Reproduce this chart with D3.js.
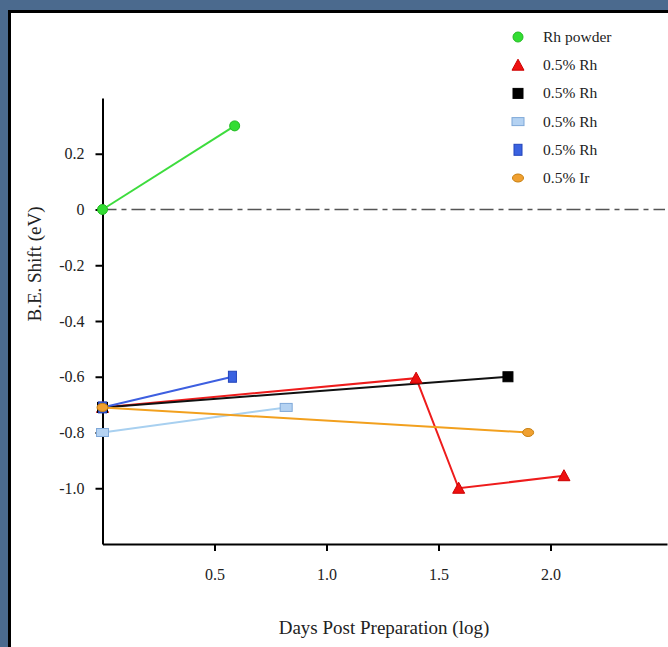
<!DOCTYPE html>
<html>
<head>
<meta charset="utf-8">
<script src="https://cdn.jsdelivr.net/npm/d3@7"></script>
<style>
  html, body { margin: 0; padding: 0; background: #4b6a8e; }
  svg { display: block; }
</style>
</head>
<body>
<script>
const width = 668;
const height = 647;

// series: days post preparation (log) vs B.E. shift (eV)
const seriesNames = ["Rh powder", "0.5% Rh", "0.5% Rh", "0.5% Rh", "0.5% Rh", "0.5% Ir"];
const rhPowder = [[0, 0], [0.59, 0.30]];
const rhRed = [[0, -0.71], [1.40, -0.605], [1.59, -1.00], [2.06, -0.955]];
const rhBlack = [[0, -0.71], [1.81, -0.60]];
const rhLight = [[0, -0.80], [0.82, -0.71]];
const rhBlue = [[0, -0.71], [0.58, -0.60]];
const irOrange = [[0, -0.71], [1.90, -0.80]];

const xTicks = [0.5, 1.0, 1.5, 2.0];
const yTicks = [0.2, 0, -0.2, -0.4, -0.6, -0.8, -1.0];

const styles = [
  { data: rhPowder, line: "#3ddc3d", fill: "#33dd33", stroke: "#22bb22", shape: "circle" },
  { data: rhRed, line: "#ee1c1c", fill: "#ee1111", stroke: "#cc0000", shape: "triangle" },
  { data: rhBlack, line: "#111111", fill: "#000000", stroke: "#000000", shape: "square" },
  { data: rhLight, line: "#a8d0f0", fill: "#b4d2f2", stroke: "#7fa8d8", shape: "wideRect" },
  { data: rhBlue, line: "#3d5fe0", fill: "#3a62e0", stroke: "#2244bb", shape: "tallRect" },
  { data: irOrange, line: "#f2a01e", fill: "#f0a030", stroke: "#c88010", shape: "ellipse" }
];

const svg = d3.select("body").append("svg")
  .attr("width", width)
  .attr("height", height);

// panel
svg.append("rect")
  .attr("x", 9.5).attr("y", 11.5)
  .attr("width", width + 10).attr("height", height + 10)
  .attr("fill", "#ffffff")
  .attr("stroke", "#000000")
  .attr("stroke-width", 3);

const x = d3.scaleLinear().domain([0, 2.52]).range([102.5, 667]);
const y = d3.scaleLinear().domain([-1.2, 0.4]).range([544, 98]);

const font = "'Liberation Serif', 'Times New Roman', serif";
const fmt = (d) => d === 0 ? "0" : d.toFixed(1);

// zero reference line
svg.append("line")
  .attr("x1", x(0)).attr("x2", 665)
  .attr("y1", y(0)).attr("y2", y(0))
  .attr("stroke", "#555555")
  .attr("stroke-width", 1.5)
  .attr("stroke-dasharray", "14,5,5,5");

const yAxis = svg.append("g")
  .attr("transform", `translate(${x(0)},0)`)
  .call(d3.axisLeft(y).tickValues(yTicks).tickSize(7).tickSizeOuter(0)
    .tickPadding(11).tickFormat(fmt));

const xAxis = svg.append("g")
  .attr("transform", `translate(0,${y(-1.2)})`)
  .call(d3.axisBottom(x).tickValues(xTicks).tickSize(7).tickSizeOuter(0)
    .tickPadding(18).tickFormat(fmt));

[xAxis, yAxis].forEach((g) => {
  g.select(".domain").attr("stroke-width", 2).attr("stroke", "#000");
  g.selectAll(".tick line").attr("stroke-width", 2);
  g.selectAll("text")
    .attr("font-family", font)
    .attr("font-size", 16)
    .attr("fill", "#222");
});

svg.append("text")
  .attr("x", 384).attr("y", 634)
  .attr("text-anchor", "middle")
  .attr("font-family", font)
  .attr("font-size", 19)
  .attr("fill", "#222")
  .text("Days Post Preparation (log)");

svg.append("text")
  .attr("transform", "translate(41,264) rotate(-90)")
  .attr("text-anchor", "middle")
  .attr("font-family", font)
  .attr("font-size", 19)
  .attr("fill", "#222")
  .text("B.E. Shift (eV)");

const drawMarker = (g, shape, cx, cy, s) => {
  let m;
  if (shape === "circle") {
    m = g.append("circle").attr("cx", cx).attr("cy", cy).attr("r", 5);
  } else if (shape === "triangle") {
    m = g.append("path").attr("d", `M${cx},${cy - 6}L${cx + 6},${cy + 5}L${cx - 6},${cy + 5}Z`);
  } else if (shape === "square") {
    m = g.append("rect").attr("x", cx - 5).attr("y", cy - 5).attr("width", 10).attr("height", 10);
  } else if (shape === "wideRect") {
    m = g.append("rect").attr("x", cx - 6).attr("y", cy - 4).attr("width", 12).attr("height", 8);
  } else if (shape === "tallRect") {
    m = g.append("rect").attr("x", cx - 4).attr("y", cy - 5.5).attr("width", 8).attr("height", 11);
  } else {
    m = g.append("ellipse").attr("cx", cx).attr("cy", cy).attr("rx", 5.5).attr("ry", 4);
  }
  m.attr("fill", s.fill).attr("stroke", s.stroke).attr("stroke-width", 1);
};

const line = d3.line().x((d) => x(d[0])).y((d) => y(d[1]));

const plot = svg.append("g");
styles.forEach((s) => {
  plot.append("path")
    .datum(s.data)
    .attr("d", line)
    .attr("fill", "none")
    .attr("stroke", s.line)
    .attr("stroke-width", 2);
});
styles.forEach((s) => {
  s.data.forEach((d) => drawMarker(plot, s.shape, x(d[0]), y(d[1]), s));
});

// legend
const legend = svg.append("g").attr("transform", "translate(518,37)");
styles.forEach((s, i) => {
  const row = legend.append("g").attr("transform", `translate(0,${i * 28.2})`);
  drawMarker(row, s.shape, 0, 0, s);
  row.append("text")
    .attr("x", 25).attr("y", 5)
    .attr("font-family", font)
    .attr("font-size", 15.5)
    .attr("fill", "#222")
    .text(seriesNames[i]);
});
</script>
</body>
</html>
